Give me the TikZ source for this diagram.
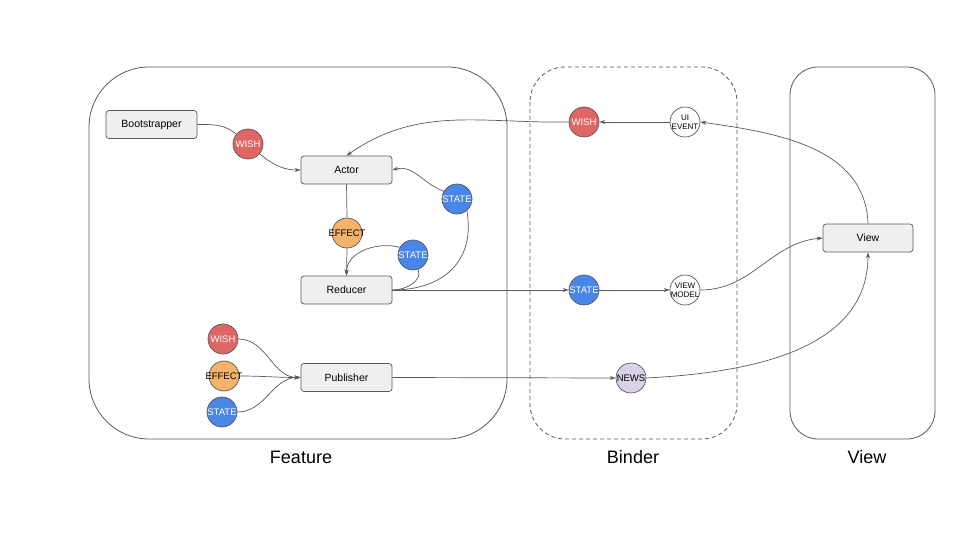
\documentclass[tikz,border=0pt]{standalone}
\usepackage{fontspec}
\setmainfont{Liberation Sans}
\usetikzlibrary{arrows.meta}
\definecolor{wishred}{HTML}{E06666}
\definecolor{effor}{HTML}{F6B26B}
\definecolor{stblue}{HTML}{4A86E8}
\definecolor{newsl}{HTML}{D9D2E9}
\definecolor{boxfill}{HTML}{EFEFEF}
\definecolor{ln}{HTML}{595959}
\tikzset{
  container/.style={draw=ln, line width=0.8pt},
  procbox/.style={draw=ln, fill=boxfill, rounded corners=3pt, minimum width=91pt, minimum height=28pt, inner sep=0pt, font=\fontsize{10.5}{12}\selectfont, line width=0.7pt},
  dot/.style={circle, draw=ln, minimum size=30pt, inner sep=0pt, line width=0.7pt},
  wishc/.style={dot, fill=wishred, label={[font=\fontsize{9.5}{10}\selectfont, text=white]center:WISH}},
  statec/.style={dot, fill=stblue, label={[font=\fontsize{9.5}{10}\selectfont, text=white]center:STATE}},
  effectc/.style={dot, fill=effor, label={[font=\fontsize{9.5}{10}\selectfont, text=black]center:EFFECT}},
  edge/.style={draw=ln, line width=0.7pt},
  arr/.style={edge, -{Stealth[length=6pt,width=4pt]}},
  title/.style={font=\fontsize{18}{20}\selectfont}
}
\begin{document}
\begin{tikzpicture}[x=1pt,y=1pt]
\useasboundingbox (0,0) rectangle (960,-540);
% containers
\draw[container, rounded corners=60pt] (89,-67) rectangle (507,-439);
\draw[container, dash pattern=on 4pt off 3pt, rounded corners=35pt] (530,-67) rectangle (737,-439);
\draw[container, rounded corners=28pt] (790,-67) rectangle (935,-439);
\node[title] (tfeat) at (301,-457) {Feature};
\node[title] (tbind) at (633,-457) {Binder};
\node[title] (tview) at (867,-457) {View};
% boxes
\node[procbox] (boot) at (151.5,-124.5) {Bootstrapper};
\node[procbox] (actor) at (346.5,-170) {Actor};
\node[procbox] (reducer) at (346.5,-290) {Reducer};
\node[procbox] (publisher) at (346.5,-377.5) {Publisher};
\node[procbox, minimum width=90pt] (view) at (868,-238) {View};
% circles
\node[wishc] (wish1) at (248,-144) {};
\node[effectc] (effect1) at (347,-233) {};
\node[statec] (state1) at (413,-255) {};
\node[statec] (state2) at (457,-199) {};
\node[wishc] (pwish) at (223,-339) {};
\node[effectc] (peffect) at (224,-376) {};
\node[statec] (pstate) at (222,-412) {};
\node[wishc] (bwish) at (584,-122) {};
\node[dot, fill=white, label={[font=\fontsize{8}{9}\selectfont, align=center]center:UI\\EVENT}] (uiev) at (685,-122) {};
\node[statec] (bstate) at (584,-290) {};
\node[dot, fill=white, label={[font=\fontsize{8}{9}\selectfont, align=center]center:VIEW\\MODEL}] (vm) at (685,-290) {};
\node[dot, fill=newsl, label={[font=\fontsize{9.5}{10}\selectfont]center:NEWS}] (news) at (631,-378) {};
% connectors
\draw[edge] (boot.east) to[out=0,in=140] (wish1);
\draw[arr] (wish1) to[out=-40,in=180] (actor.west);
\draw[arr] (uiev.west) -- (bwish.east);
\draw[arr] (bwish.west) to[out=181,in=35] (actor.north);
\draw[arr] (view.north) to[out=92,in=-8] (uiev.east);
\draw[edge] (actor.south) -- (effect1.north);
\draw[arr] (effect1.south) -- (reducer.north);
\draw[edge] (reducer.east) to[out=0,in=-70] (state1);
\draw[arr] (state1.150) to[out=165,in=90] (reducer.north);
\draw[edge] (reducer.east) to[out=0,in=-80,looseness=1.2] (state2.-50);
\draw[arr] (state2.150) to[out=160,in=15] (actor.east);
\draw[arr] (reducer.east) -- (bstate.west);
\draw[arr] (bstate.east) -- (vm.west);
\draw[arr] (vm.east) to[out=0,in=185] (view.west);
\draw[arr] (pwish.east) to[out=0,in=180] (publisher.west);
\draw[arr] (peffect.east) to[out=0,in=180] (publisher.west);
\draw[arr] (pstate.east) to[out=0,in=180] (publisher.west);
\draw[arr] (publisher.east) -- (news.west);
\draw[arr] (news.east) to[out=3,in=-90] (view.south);
\end{tikzpicture}
\end{document}
